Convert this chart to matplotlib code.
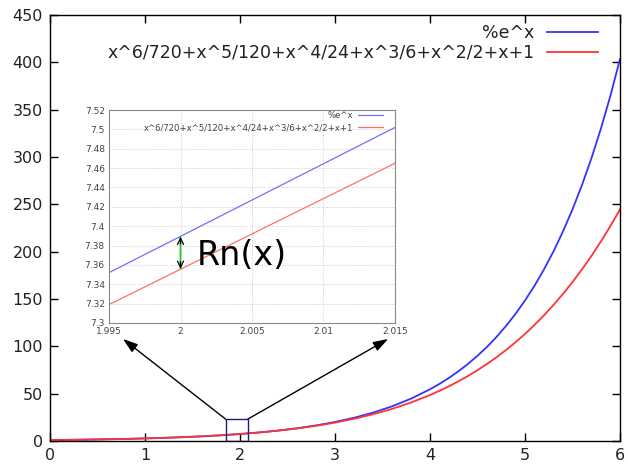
import numpy as np
import matplotlib.pyplot as plt
from matplotlib.patches import Rectangle

# values (x step 0.2, finer where the curves bend)
x = [0.0, 0.2, 0.4, 0.6, 0.8, 1.0, 1.2, 1.4, 1.6, 1.8, 2.0, 2.2, 2.4, 2.6, 2.8, 3.0,
     3.2, 3.4, 3.6, 3.8, 4.0, 4.1, 4.2, 4.3, 4.4, 4.5, 4.6, 4.7, 4.8, 4.9, 5.0,
     5.1, 5.2, 5.3, 5.4, 5.5, 5.6, 5.7, 5.8, 5.9, 6.0]
exp_vals = [1.0, 1.22, 1.49, 1.82, 2.23, 2.72, 3.32, 4.06, 4.95, 6.05, 7.39, 9.03,
            11.02, 13.46, 16.44, 20.09, 24.53, 29.96, 36.60, 44.70, 54.60, 60.34,
            66.69, 73.70, 81.45, 90.02, 99.48, 109.9, 121.5, 134.3, 148.4,
            164.0, 181.3, 200.3, 221.4, 244.7, 270.4, 298.9, 330.3, 365.0, 403.4]
taylor_vals = [1.0, 1.22, 1.49, 1.82, 2.23, 2.72, 3.32, 4.05, 4.95, 6.03, 7.36, 8.96,
               10.90, 13.23, 16.04, 19.41, 23.44, 28.23, 33.92, 40.64, 48.56, 53.02,
               57.85, 63.07, 68.72, 74.81, 81.38, 88.46, 96.09, 104.3, 113.1,
               122.6, 132.8, 143.7, 155.4, 167.9, 181.3, 195.6, 210.9, 227.2, 244.6]

# zoomed values near x = 2
x_zoom = [1.995, 2.015]
exp_zoom = [7.352, 7.502]
taylor_zoom = [7.319, 7.465]
rn_x = 2.0
rn_top, rn_bottom = 7.389, 7.356

zoom_box = [1.85, 2.08, 0, 23]  # x0, x1, y0, y1

label_exp = "%e^x"
label_taylor = "x^6/720+x^5/120+x^4/24+x^3/6+x^2/2+x+1"

fig = plt.figure(figsize=(6.28, 4.70), dpi=100)
ax = fig.add_axes([50 / 628, 29 / 470, 570 / 628, 426 / 470])

ax.plot(x, exp_vals, color="#3333ff", lw=1.3, label=label_exp)
ax.plot(x, taylor_vals, color="#ff3333", lw=1.3, label=label_taylor)
ax.set_xlim(0, 6)
ax.set_ylim(0, 450)
ax.set_xticks(range(0, 7))
ax.set_yticks(range(0, 451, 50))
ax.tick_params(direction="in", length=6, width=1, top=True, right=True,
               labelsize=11.5, labelcolor="#222222", pad=5)
for s in ax.spines.values():
    s.set_linewidth(1)
ax.legend(loc="upper right", bbox_to_anchor=(0.961, 0.979), frameon=False,
          markerfirst=False, fontsize=12.5, handlelength=2.94, handletextpad=0.69,
          labelspacing=0.1, borderaxespad=0, borderpad=0, labelcolor="#222222")

x0, x1, y0, y1 = zoom_box
ax.add_patch(Rectangle((x0, y0), x1 - x0, y1 - y0, fill=False,
                       edgecolor="#1a1a80", lw=1, zorder=5))

# inset
ins = fig.add_axes([109 / 628, 147 / 470, 286 / 628, 213 / 470])
ins.plot(x_zoom, exp_zoom, color="#7070ff", lw=0.9, label=label_exp)
ins.plot(x_zoom, taylor_zoom, color="#ff7070", lw=0.9, label=label_taylor)
ins.set_xlim(1.995, 2.015)
ins.set_ylim(7.3, 7.52)
ins.set_xticks([1.995, 2.0, 2.005, 2.01, 2.015])
ins.set_xticklabels(["1.995", "2", "2.005", "2.01", "2.015"])
ins.set_yticks(np.round(np.arange(7.3, 7.521, 0.02), 2))
ins.set_yticklabels(["7.3", "7.32", "7.34", "7.36", "7.38", "7.4", "7.42",
                     "7.44", "7.46", "7.48", "7.5", "7.52"])
ins.tick_params(length=0, labelsize=6.5, labelcolor="#444444", pad=3)
ins.grid(True, color="#bbbbbb", lw=0.6, ls=(0, (1, 2)))
for s in ins.spines.values():
    s.set_color("#888888")
    s.set_linewidth(0.8)
ins.legend(loc="upper right", bbox_to_anchor=(0.958, 0.995), frameon=False,
           markerfirst=False, fontsize=6.1, handlelength=2.95, handletextpad=0.6,
           labelspacing=0.35, borderaxespad=0, borderpad=0, labelcolor="#444444")

ins.annotate("", xy=(rn_x, rn_top), xytext=(rn_x, rn_bottom),
             arrowprops=dict(arrowstyle="-", color="#22cc22", lw=1.3,
                             shrinkA=0, shrinkB=0))
mid = (rn_top + rn_bottom) / 2
span = rn_top - rn_bottom
for end, sign in ((rn_top, -1), (rn_bottom, 1)):
    ins.annotate("", xy=(rn_x, end), xytext=(rn_x, end + sign * span * 0.22),
                 arrowprops=dict(arrowstyle="->,head_length=0.45,head_width=0.22",
                                 color="black", lw=0.9, shrinkA=0, shrinkB=0))
ins.text(2.00115, mid - 0.003, "Rn(x)", fontsize=24, va="center", ha="left")

# arrows from the zoom box to the inset
for bx, tx in ((x0, 0.049), (x1, 0.976)):
    ax.annotate("", xy=(tx, -0.075), xycoords=ins.transAxes,
                xytext=(bx, y1), textcoords="data",
                arrowprops=dict(arrowstyle="-|>,head_length=0.9,head_width=0.3",
                                color="black", lw=1, shrinkA=0, shrinkB=0))

fig.savefig("out.png", dpi=100)
